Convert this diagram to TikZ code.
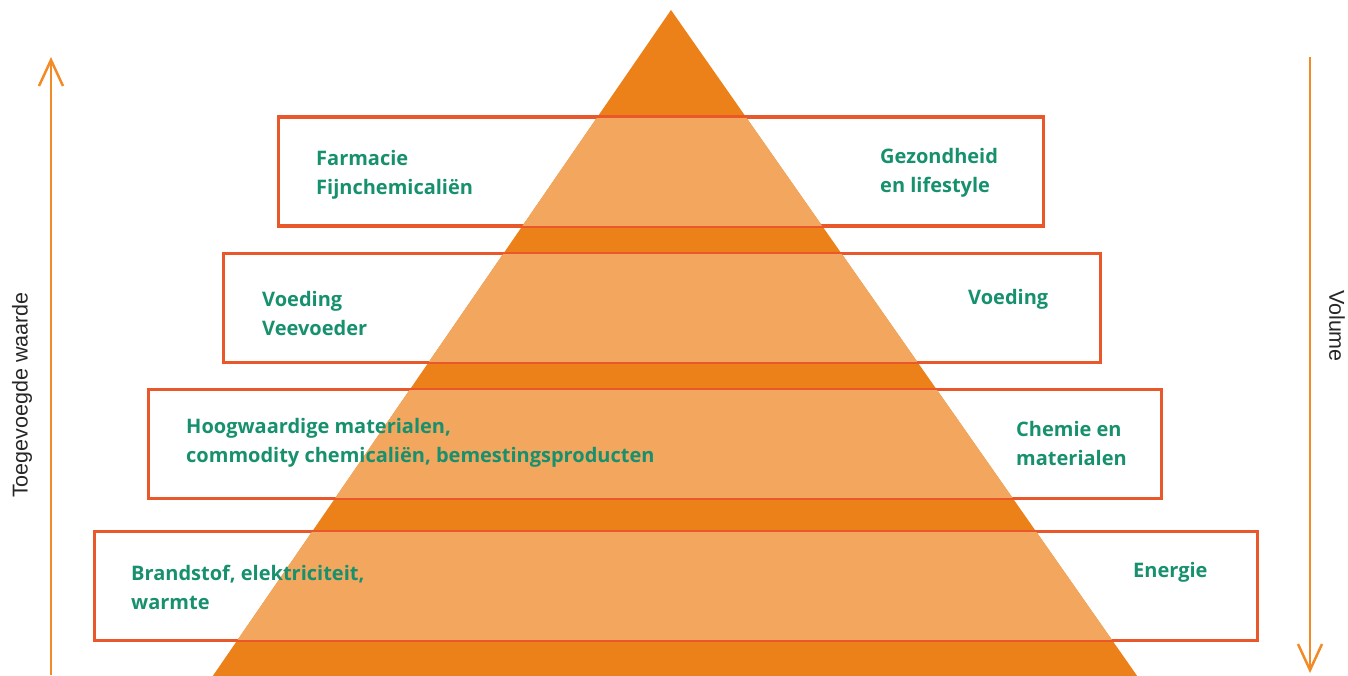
\documentclass[tikz,border=0pt]{standalone}
\usepackage{fontspec}
\setmainfont{Liberation Sans}
\newfontfamily\greenfont{Open Sans}
\usetikzlibrary{arrows.meta}
\definecolor{darkor}{HTML}{EC811A}
\definecolor{lightor}{HTML}{F2A65E}
\definecolor{boxred}{HTML}{E8582A}
\definecolor{txtgreen}{HTML}{17906E}
\definecolor{arrowor}{HTML}{F28A26}
\tikzset{
  box/.style={draw=boxred, line width=2.4pt, minimum width=#1, inner sep=0pt, minimum height=108pt},
  lbl/.style={anchor=west, align=left, text=txtgreen, font=\greenfont\bfseries\fontsize{20}{29}\selectfont, inner sep=0pt},
  axis/.style={draw=arrowor, line width=2.5pt, -{Straight Barb[length=26pt, width=24pt, line width=2.5pt]}},
  axlbl/.style={font=\fontsize{21.5}{24}\selectfont, text=black!85, inner sep=0pt}
}
\begin{document}
\begin{tikzpicture}[x=1pt,y=-1pt]
\useasboundingbox (0,0) rectangle (1348,675);
\coordinate (apex) at (671,10);
\coordinate (bl) at (210,680);
\coordinate (br) at (1140,680);
\begin{scope}
\clip (0,0) rectangle (1348,675);
\fill[darkor] (apex) -- (bl) -- (br) -- cycle;
\end{scope}
\node[box=764pt] (b1) at (661,171.5) {};
\node[box=876pt] (b2) at (662,308) {};
\node[box=1012pt] (b3) at (655,444) {};
\node[box=1162pt] (b4) at (676,586) {};
\begin{scope}
\clip (apex) -- (bl) -- (br) -- cycle;
\foreach \b in {b1,b2,b3,b4}{
  \fill[lightor] (\b.south west) rectangle (\b.north east);
}
\end{scope}
\foreach \b in {b1,b2,b3,b4}{
  \draw[boxred, line width=2.4pt] (\b.south west) rectangle (\b.north east);
}
\node[lbl] (t1l) at (316,175) {Farmacie\\Fijnchemicaliën};
\node[lbl] (t1r) at (880,173) {Gezondheid\\en lifestyle};
\node[lbl] (t2l) at (262,313) {Voeding\\Veevoeder};
\node[lbl] (t2r) at (968,299) {Voeding};
\node[lbl] (t3l) at (186,443) {Hoogwaardige materialen,\\commodity chemicaliën, bemestingsproducten};
\node[lbl] (t3r) at (1016,443) {Chemie en\\materialen};
\node[lbl] (t4l) at (131,587) {Brandstof, elektriciteit,\\warmte};
\node[lbl] (t4r) at (1133,572) {Energie};
\coordinate (la0) at (51,675);
\coordinate (la1) at (51,57);
\coordinate (ra0) at (1310,57);
\coordinate (ra1) at (1310,673);
\draw[axis] (la0) -- (la1);
\draw[axis] (ra0) -- (ra1);
\node[axlbl, rotate=90] (lv) at (22,395) {Toegevoegde waarde};
\node[axlbl, rotate=-90] (rv) at (1337,326) {Volume};
\end{tikzpicture}
\end{document}
